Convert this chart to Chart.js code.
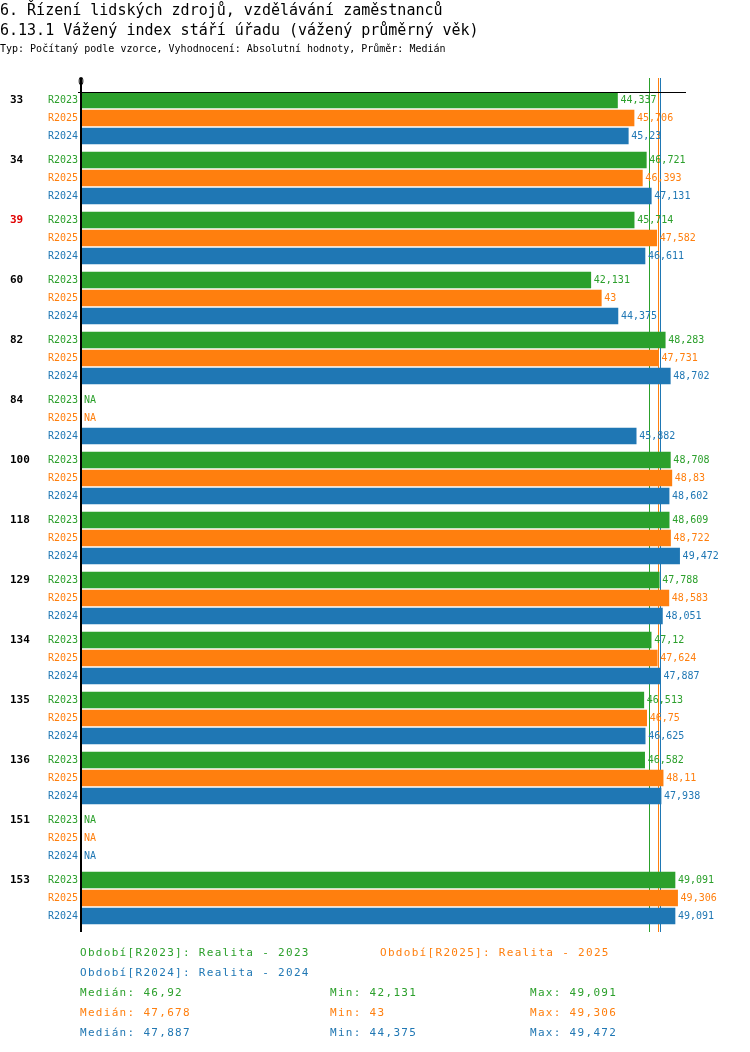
<!DOCTYPE html>
<html><head><meta charset="utf-8">
<script src="https://cdn.jsdelivr.net/npm/chart.js@4"></script>
<style>
body{margin:0;background:#fff;font-family:"DejaVu Sans Mono",monospace;}
#wrap{position:relative;width:750px;height:1052px;}
canvas{position:absolute;left:0;top:0;}
.t{position:absolute;white-space:nowrap;}
</style></head><body>
<div id="wrap">
<canvas id="c" width="750" height="1052"></canvas>
<div class="t" style="left:0;top:1px;font-size:15px;">6. Řízení lidských zdrojů, vzdělávání zaměstnanců</div>
<div class="t" style="left:0;top:21px;font-size:15px;">6.13.1 Vážený index stáří úřadu (vážený průměrný věk)</div>
<div class="t" style="left:0;top:43px;font-size:10px;">Typ: Počítaný podle vzorce, Vyhodnocení: Absolutní hodnoty, Průměr: Medián</div>
<div id="leg"></div>
</div>
<script>
const groups=["33","34","39","60","82","84","100","118","129","134","135","136","151","153"];
const groupColors=["#000","#000","#e00000","#000","#000","#000","#000","#000","#000","#000","#000","#000","#000","#000"];
const seriesNames=["R2023","R2025","R2024"];
const seriesLegend=["Období[R2023]: Realita - 2023","Období[R2025]: Realita - 2025","Období[R2024]: Realita - 2024"];
const colors=["#2ca02c","#ff7f0e","#1f77b4"];
const r2023=[44.337,46.721,45.714,42.131,48.283,null,48.708,48.609,47.788,47.12,46.513,46.582,null,49.091];
const r2025=[45.706,46.393,47.582,43,47.731,null,48.83,48.722,48.583,47.624,46.75,48.11,null,49.306];
const r2024=[45.23,47.131,46.611,44.375,48.702,45.882,48.602,49.472,48.051,47.887,46.625,47.938,null,49.091];
const medians=[46.92,47.678,47.887];
const mins=[42.131,43,44.375];
const maxs=[49.091,49.306,49.472];
const series=[r2023,r2025,r2024];
const fmt=v=>String(v).replace('.',',');
const pos=(g,s)=>8+60*g+18*s;

const datasets=series.map((arr,s)=>({
  data:arr.map((v,g)=>({x:v,y:pos(g,s)})).filter(p=>p.x!==null),
  backgroundColor:colors[s],barThickness:16,borderWidth:0,grouped:false
}));

const deco={id:'deco',
beforeDatasetsDraw(ch){const c=ch.ctx,x=ch.scales.x,a=ch.chartArea;c.save();c.lineWidth=1;
  medians.forEach((m,i)=>{const px=Math.round(x.getPixelForValue(m))+0.5;c.strokeStyle=colors[i];c.beginPath();c.moveTo(px,78);c.lineTo(px,a.bottom);c.stroke();});
  c.restore();},
afterDatasetsDraw(ch){const c=ch.ctx,x=ch.scales.x,y=ch.scales.y,a=ch.chartArea;c.save();
  c.strokeStyle="#000";c.lineWidth=1;c.beginPath();c.moveTo(78,a.top+0.5);c.lineTo(a.right,a.top+0.5);c.stroke();
  c.lineWidth=2;c.beginPath();c.moveTo(81,78);c.lineTo(81,a.bottom);c.stroke();
  c.font="10px 'DejaVu Sans Mono'";c.fillStyle="#000";c.textAlign="center";c.textBaseline="middle";c.fillText("0",81,82);
  groups.forEach((gn,g)=>{
    const gy=y.getPixelForValue(pos(g,0));
    c.font="bold 11px 'DejaVu Sans Mono'";c.textAlign="left";c.fillStyle=groupColors[g];c.fillText(gn,10,gy);
    series.forEach((arr,s)=>{const py=y.getPixelForValue(pos(g,s));
      c.font="10px 'DejaVu Sans Mono'";c.fillStyle=colors[s];c.textAlign="right";c.fillText(seriesNames[s],78,py);
      c.textAlign="left";const v=arr[g];
      if(v===null)c.fillText("NA",84,py);else c.fillText(fmt(v),x.getPixelForValue(v)+3,py);
    });
  });
  c.restore();}
};

new Chart(document.getElementById('c'),{type:'bar',data:{datasets},
options:{indexAxis:'y',responsive:false,animation:false,
 layout:{padding:{left:81,right:64,top:92,bottom:120}},
 plugins:{legend:{display:false},tooltip:{enabled:false}},
 scales:{x:{type:'linear',min:0,max:50,display:false},
   y:{type:'linear',min:0,max:840,reverse:true,display:false,offset:false}}},
plugins:[deco]});

let h='';
const st=(l,t,col,txt)=>`<div class="t" style="left:${l}px;top:${t}px;font-size:11px;letter-spacing:1.3px;color:${col}">${txt}</div>`;
h+=st(80,946,colors[0],seriesLegend[0]);h+=st(380,946,colors[1],seriesLegend[1]);h+=st(80,966,colors[2],seriesLegend[2]);
[0,1,2].forEach(i=>{const t=986+20*i;h+=st(80,t,colors[i],"Medián: "+fmt(medians[i]));h+=st(330,t,colors[i],"Min: "+fmt(mins[i]));h+=st(530,t,colors[i],"Max: "+fmt(maxs[i]));});
document.getElementById('leg').innerHTML=h;
</script></body></html>
